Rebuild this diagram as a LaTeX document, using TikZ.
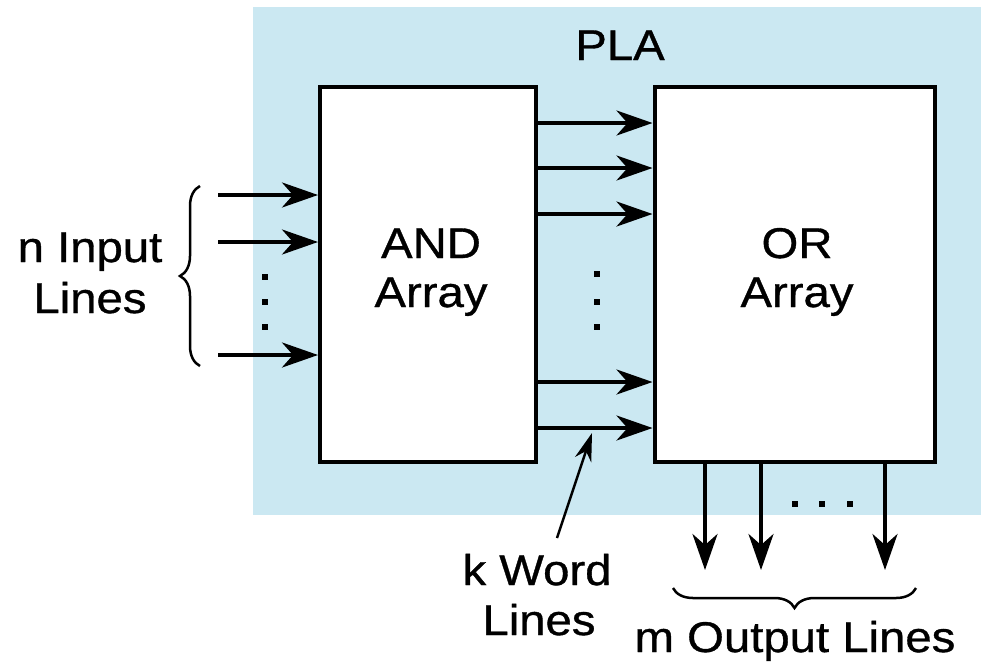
\documentclass[tikz,border=0pt]{standalone}
\usepackage{fontspec}
\setmainfont{Liberation Sans}
\newfontfamily\lblfont[FakeStretch=1.1,FakeBold=0.8]{Liberation Sans}
\usetikzlibrary{arrows.meta,decorations.pathreplacing}
\definecolor{plablue}{RGB}{203,232,242}
\tikzset{
  x=1pt, y=-1pt,
  blk/.style={draw, fill=white, line width=4pt, inner sep=0pt},
  lbl/.style={anchor=base, inner sep=0pt, font=\lblfont\fontsize{43}{50}\selectfont},
  sig/.style={line width=3.5pt, -{Stealth[length=36pt,width=25pt,inset=11pt]}},
  dotm/.style={fill=black, minimum size=6pt, inner sep=0pt, rectangle},
  brc/.style={decorate, decoration={brace, amplitude=20pt}, line width=2.5pt},
}
\begin{document}
\begin{tikzpicture}
\useasboundingbox (0,0) rectangle (981,665);
\fill[plablue] (253,7) rectangle (981,515);
\node[lbl] (pla) at (620,60) {PLA};
\node[blk, minimum width=216pt, minimum height=375pt] (and) at (428,274.5) {};
\node[blk, minimum width=280pt, minimum height=375pt] (or) at (794.5,274.5) {};
\node[lbl] (andt1) at (431,258) {AND};
\node[lbl] (andt2) at (431,307) {Array};
\node[lbl] (ort1) at (797,258) {OR};
\node[lbl] (ort2) at (797,307) {Array};
% inputs
\foreach \i/\y in {1/195,2/242,3/355} {
  \coordinate (in\i) at (218,\y);
  \draw[sig] (in\i) -- (in\i -| and.west);
}
\foreach \i/\y in {1/277,2/302,3/327} \node[dotm] (idot\i) at (265,\y) {};
\draw[brc] (200,366) -- (200,186);
\node[lbl] (inlbl1) at (90,262) {n Input};
\node[lbl] (inlbl2) at (90,313) {Lines};
% word lines
\foreach \i/\y in {1/123,2/168,3/214,4/382,5/428} {
  \coordinate (w\i) at (537,\y);
  \draw[sig] (w\i) -- (w\i -| or.west);
}
\foreach \i/\y in {1/274,2/302,3/327} \node[dotm] (wdot\i) at (597,\y) {};
% outputs
\foreach \i/\x in {1/705,2/761,3/885} {
  \coordinate (o\i) at (\x,570);
  \draw[sig] (o\i |- or.south) -- (o\i);
}
\foreach \i/\x in {1/795,2/822,3/850} \node[dotm] (odot\i) at (\x,504) {};
\draw[brc] (916,588) -- (673,588);
\node[lbl] (outlbl) at (795,652) {m Output Lines};
% k word lines
\node[lbl] (klbl1) at (537,585) {k Word};
\node[lbl] (klbl2) at (539,635) {Lines};
\coordinate (ktail) at (557,538);
\coordinate (ktip) at (592,433);
\draw[line width=2.5pt, -{Stealth[length=28pt,width=17pt,inset=9pt]}] (ktail) -- (ktip);
\end{tikzpicture}
\end{document}
